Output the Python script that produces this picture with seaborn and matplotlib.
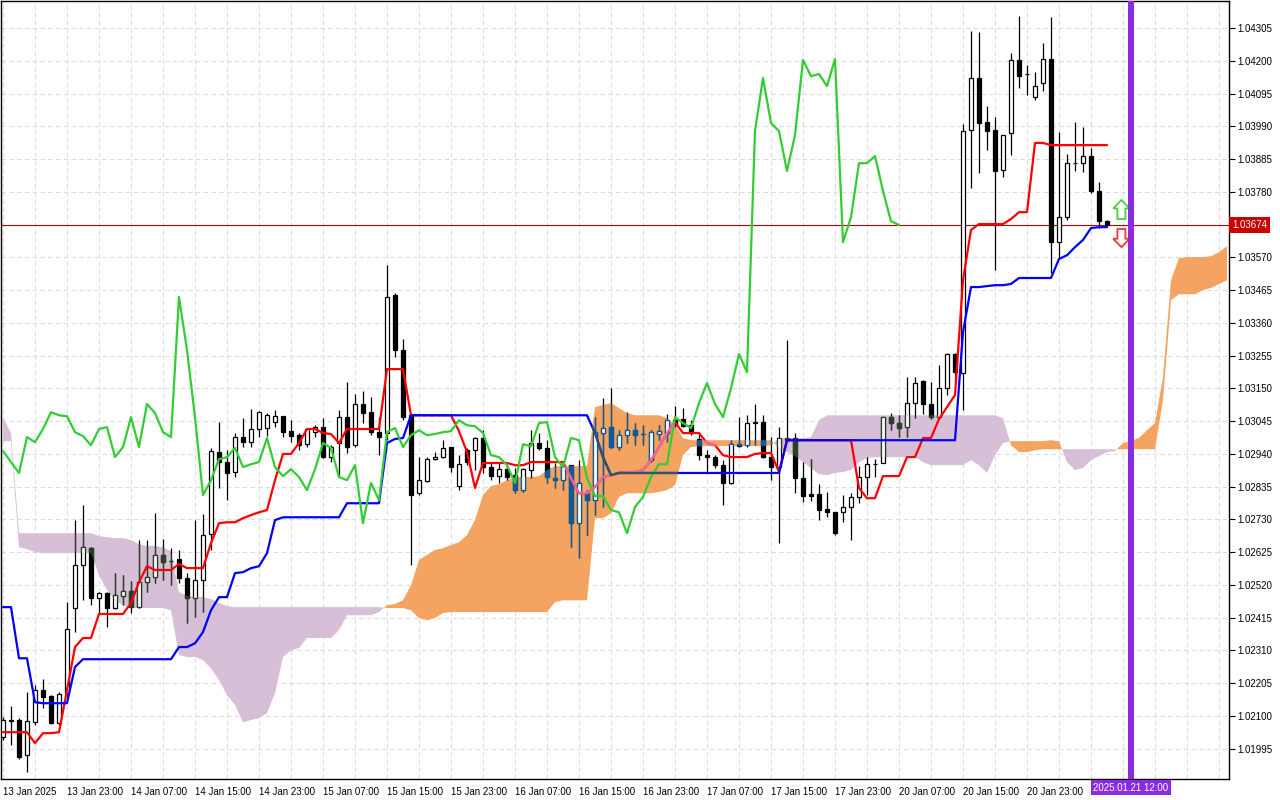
import numpy as np
import pandas as pd
import seaborn as sns
import matplotlib
matplotlib.use("Agg")
import matplotlib.pyplot as plt
import matplotlib.transforms as mtransforms
from matplotlib.path import Path
from matplotlib.patches import FancyArrow

# EURUSD H1 candles, prices in points (1 point = 0.00001)
open_pts = [102032, 102087, 102087, 101974, 102080, 102183, 102164, 102077, 102173, 102446,
            102584, 102638, 102478, 102494, 102446, 102484, 102500, 102449, 102529, 102545,
            102616, 102596, 102603, 102542, 102478, 102535, 102683, 102946, 102914, 102882,
            102994, 102978, 103020, 103023, 103042, 103061, 103013, 103000, 102971, 103010,
            103026, 102930, 102975, 103058, 102968, 103100, 103074, 103010, 103007, 103449,
            103273, 103064, 102814, 102853, 102923, 102930, 102962, 102837, 102952, 102952,
            102991, 102898, 102869, 102891, 102872, 102824, 102888, 102975, 102959, 102862,
            102856, 102904, 102718, 102814, 102792, 103007, 103026, 102962, 103000, 103016,
            103004, 102920, 103004, 103007, 103048, 103052, 103032, 102988, 102936, 102930,
            102904, 102847, 102971, 102968, 103039, 103042, 102930, 102898, 102991, 102991,
            102862, 102811, 102811, 102763, 102753, 102753, 102770, 102802, 102866, 102907,
            102911, 103058, 103039, 103026, 103103, 103173, 103100, 103058, 103151, 103260,
            103199, 103978, 104145, 104004, 103978, 103850, 103969, 104203, 104158, 104084,
            104129, 104206, 103619, 103699, 103872, 103872, 103895, 103783, 103686]
high_pts = [102096, 102132, 102093, 102176, 102199, 102218, 102167, 102176, 102465, 102728,
            102776, 102641, 102497, 102497, 102558, 102551, 102532, 102664, 102664, 102750,
            102667, 102638, 102632, 102558, 102728, 102747, 102959, 103042, 102952, 103007,
            103055, 103084, 103077, 103071, 103080, 103061, 103048, 103007, 103023, 103032,
            103055, 102968, 103080, 103170, 103132, 103141, 103122, 103058, 103545, 103456,
            103308, 103071, 102930, 102930, 102946, 102984, 102962, 102936, 102959, 102994,
            103016, 102911, 102911, 102904, 102895, 102895, 103016, 103007, 102984, 102911,
            102911, 102904, 102920, 102824, 103058, 103119, 103151, 103016, 103074, 103039,
            103032, 103016, 103032, 103068, 103093, 103087, 103048, 103007, 102952, 102936,
            102920, 102984, 103058, 103064, 103100, 103064, 102994, 103026, 103305, 103007,
            102914, 102923, 102843, 102818, 102753, 102808, 102814, 102901, 102930, 102923,
            103058, 103071, 103064, 103186, 103186, 103177, 103170, 103225, 103263, 103263,
            103997, 104296, 104292, 104055, 104020, 103962, 104225, 104344, 104187, 104164,
            104257, 104340, 103972, 103901, 104004, 103988, 103920, 103811, 103690]
low_pts = [102023, 102006, 101962, 101920, 102071, 102125, 102074, 102071, 102160, 102369,
           102471, 102455, 102430, 102385, 102442, 102455, 102430, 102446, 102497, 102526,
           102535, 102519, 102526, 102398, 102417, 102433, 102632, 102831, 102792, 102866,
           102962, 102962, 102994, 102997, 103026, 102994, 102978, 102952, 102962, 102994,
           102927, 102914, 102866, 102943, 102962, 103039, 103000, 102936, 102984, 103251,
           103048, 102584, 102808, 102850, 102920, 102927, 102882, 102824, 102904, 102888,
           102879, 102856, 102847, 102856, 102814, 102818, 102862, 102952, 102847, 102831,
           102824, 102641, 102606, 102680, 102744, 102770, 102959, 102952, 102975, 102968,
           102968, 102914, 102984, 102978, 103026, 103026, 103000, 102920, 102882, 102895,
           102776, 102843, 102962, 102962, 102968, 102927, 102856, 102654, 102978, 102814,
           102786, 102789, 102728, 102737, 102680, 102721, 102664, 102782, 102808, 102866,
           102911, 103016, 102994, 102994, 103055, 103068, 103052, 103052, 103129, 103177,
           103080, 103792, 103840, 103914, 103529, 103828, 103898, 104113, 104090, 104074,
           104103, 103520, 103568, 103690, 103847, 103844, 103776, 103664, 103670]
close_pts = [102087, 102083, 101968, 102083, 102183, 102160, 102077, 102170, 102378, 102584,
             102641, 102478, 102494, 102446, 102487, 102500, 102449, 102529, 102545, 102616,
             102593, 102596, 102542, 102478, 102535, 102680, 102949, 102914, 102879, 102994,
             102978, 103020, 103074, 103064, 103061, 103010, 102997, 102968, 103020, 103026,
             102930, 102962, 103058, 102962, 103100, 103071, 103010, 102994, 103443, 103273,
             103058, 102808, 102856, 102923, 102930, 102959, 102898, 102907, 102914, 102991,
             102898, 102869, 102891, 102866, 102824, 102891, 102975, 102959, 102866, 102856,
             102904, 102718, 102847, 102792, 103010, 103023, 102962, 103000, 103016, 103000,
             103004, 103010, 103013, 103048, 103032, 103029, 103007, 102936, 102930, 102904,
             102847, 102971, 102965, 103039, 103042, 102930, 102898, 102991, 102984, 102862,
             102805, 102805, 102760, 102753, 102686, 102770, 102802, 102866, 102907, 102907,
             103058, 103039, 103023, 103103, 103167, 103100, 103058, 103151, 103260, 103202,
             103975, 104145, 104001, 103975, 103847, 103962, 104203, 104151, 104158, 104119,
             104206, 103619, 103699, 103872, 103872, 103895, 103783, 103686, 103674]

# Ichimoku lines as drawn on the chart (points)
tenkan_pts = [102048, 102048, 102048, 102048, 102013, 102045, 102045, 102048, 102183, 102321,
              102350, 102350, 102427, 102427, 102427, 102427, 102462, 102529, 102580, 102568,
              102568, 102568, 102587, 102574, 102574, 102574, 102654, 102718, 102721, 102721,
              102734, 102744, 102753, 102760, 102856, 102940, 102940, 102975, 103020, 103020,
              103007, 103004, 102975, 103020, 103020, 103020, 103020, 103020, 103212, 103212,
              103212, 103064, 103064, 103064, 103064, 103064, 103064, 103013, 102946, 102831,
              102911, 102911, 102911, 102911, 102904, 102904, 102914, 102914, 102914, 102914,
              102914, 102862, 102814, 102814, 102834, 102866, 102872, 102879, 102882, 102882,
              102888, 102920, 102962, 103007, 103042, 103007, 103007, 103007, 102975, 102968,
              102936, 102930, 102930, 102930, 102940, 102943, 102943, 102882, 102984, 102984,
              102984, 102984, 102984, 102984, 102984, 102984, 102984, 102831, 102798, 102798,
              102869, 102869, 102869, 102930, 102930, 102991, 102991, 103052, 103090, 103129,
              103497, 103658, 103677, 103677, 103677, 103677, 103693, 103715, 103715, 103937,
              103937, 103930, 103930, 103930, 103930, 103930, 103930, 103930, 103930]
kijun_pts = [102449, 102449, 102285, 102285, 102144, 102141, 102141, 102141, 102141, 102257,
             102282, 102282, 102282, 102282, 102282, 102282, 102282, 102282, 102282, 102282,
             102282, 102282, 102321, 102321, 102333, 102369, 102439, 102481, 102481, 102558,
             102561, 102574, 102580, 102622, 102728, 102737, 102737, 102737, 102737, 102737,
             102737, 102737, 102737, 102782, 102782, 102782, 102782, 102782, 102975, 102988,
             102991, 103064, 103064, 103064, 103064, 103064, 103064, 103064, 103064, 103064,
             103064, 103064, 103064, 103064, 103064, 103064, 103064, 103064, 103064, 103064,
             103064, 103064, 103064, 103064, 103007, 102930, 102872, 102879, 102879, 102879,
             102879, 102879, 102879, 102879, 102879, 102879, 102879, 102879, 102879, 102879,
             102879, 102879, 102879, 102879, 102879, 102879, 102879, 102879, 102984, 102984,
             102984, 102984, 102984, 102984, 102984, 102984, 102984, 102984, 102984, 102984,
             102984, 102984, 102984, 102984, 102984, 102984, 102984, 102984, 102984, 102984,
             103331, 103475, 103475, 103478, 103481, 103481, 103485, 103504, 103504, 103504,
             103504, 103504, 103565, 103577, 103603, 103626, 103664, 103667, 103667]
# Senkou spans, already shifted 26 bars forward
span_a_pts = [102981, 102981, 102641, 102635, 102625, 102622, 102622, 102622, 102622, 102622,
              102622, 102622, 102551, 102504, 102471, 102455, 102446, 102446, 102446, 102446,
              102446, 102439, 102295, 102289, 102289, 102279, 102253, 102215, 102167, 102135,
              102080, 102087, 102093, 102109, 102173, 102289, 102311, 102318, 102350, 102350,
              102350, 102350, 102375, 102423, 102423, 102423, 102423, 102433, 102455, 102459,
              102471, 102519, 102600, 102616, 102632, 102638, 102648, 102657, 102680, 102728,
              102808, 102837, 102843, 102856, 102866, 102866, 102866, 102869, 102888, 102901,
              102901, 102901, 102901, 102901, 103090, 103097, 103103, 103087, 103071, 103064,
              103064, 103064, 103064, 103055, 103032, 102991, 102984, 102984, 102984, 102984,
              102984, 102984, 102984, 102984, 102984, 102984, 102984, 102959, 102946, 102933,
              102914, 102895, 102875, 102872, 102879, 102882, 102888, 102914, 102927, 102930,
              102930, 102930, 102930, 102930, 102930, 102914, 102904, 102904, 102904, 102904,
              102904, 102920, 102904, 102879, 102936, 102975, 102981, 102981, 102981, 102981,
              102981, 102984, 102981, 102914, 102888, 102895, 102920, 102933, 102946, 102949,
              102975, 102981, 102991, 103016, 103039, 103186, 103497, 103568, 103571, 103571,
              103571, 103574, 103587, 103606]
span_b_pts = [103058, 103007, 102686, 102686, 102686, 102686, 102686, 102686, 102686, 102686,
              102686, 102686, 102677, 102673, 102670, 102670, 102664, 102651, 102645, 102645,
              102641, 102628, 102497, 102484, 102484, 102481, 102475, 102462, 102452, 102449,
              102449, 102449, 102449, 102449, 102449, 102449, 102449, 102449, 102449, 102449,
              102449, 102449, 102449, 102449, 102449, 102449, 102449, 102449, 102446, 102446,
              102446, 102439, 102414, 102407, 102414, 102430, 102433, 102433, 102433, 102433,
              102433, 102433, 102433, 102433, 102433, 102433, 102433, 102433, 102433, 102465,
              102471, 102471, 102471, 102471, 102734, 102734, 102750, 102802, 102814, 102814,
              102814, 102814, 102818, 102824, 102840, 102936, 102962, 102965, 102965, 102965,
              102965, 102965, 102965, 102965, 102965, 102965, 102968, 102991, 102991, 102991,
              102991, 102994, 103048, 103064, 103064, 103064, 103064, 103064, 103064, 103064,
              103064, 103064, 103064, 103064, 103064, 103064, 103064, 103064, 103064, 103064,
              103064, 103064, 103064, 103064, 103064, 103055, 102968, 102946, 102946, 102952,
              102955, 102955, 102955, 102955, 102955, 102955, 102955, 102955, 102955, 102955,
              102955, 102955, 102955, 102955, 102955, 103113, 103433, 103452, 103452, 103452,
              103465, 103472, 103484, 103497]

chikou_shift = 26
current_price = 1.03674
event_bar = 141
event_label = "2025.01.21 12:00"
# buy / sell signal arrows next to the last bar
signal_bar = [139.8]
signal_up_from = [1.03693]
signal_up_to = [1.03754]
signal_down_from = [1.03661]
signal_down_to = [1.03603]

time_labels = ["13 Jan 2025", "13 Jan 23:00", "14 Jan 07:00", "14 Jan 15:00", "14 Jan 23:00",
               "15 Jan 07:00", "15 Jan 15:00", "15 Jan 23:00", "16 Jan 07:00", "16 Jan 15:00",
               "16 Jan 23:00", "17 Jan 07:00", "17 Jan 15:00", "17 Jan 23:00", "20 Jan 07:00",
               "20 Jan 15:00", "20 Jan 23:00", ""]
price_labels = ["1.01995", "1.02100", "1.02205", "1.02310", "1.02415", "1.02520", "1.02625",
                "1.02730", "1.02835", "1.02940", "1.03045", "1.03150", "1.03255", "1.03360",
                "1.03465", "1.03570", "1.03675", "1.03780", "1.03885", "1.03990", "1.04095",
                "1.04200", "1.04305"]

POINT = 1e-5
o = np.array(open_pts) * POINT
h = np.array(high_pts) * POINT
l = np.array(low_pts) * POINT
c = np.array(close_pts) * POINT
bars = np.arange(len(c))
span_a = np.array(span_a_pts) * POINT
span_b = np.array(span_b_pts) * POINT
cloud_x = np.arange(len(span_a))

lines = pd.concat([
    pd.DataFrame({"bar": bars, "price": np.array(tenkan_pts) * POINT, "line": "Tenkan-sen"}),
    pd.DataFrame({"bar": bars, "price": np.array(kijun_pts) * POINT, "line": "Kijun-sen"}),
    pd.DataFrame({"bar": bars[:-chikou_shift], "price": c[chikou_shift:], "line": "Chikou Span"}),
])

sns.set_theme(style="white")
plt.rcParams["font.family"] = ["Liberation Sans", "DejaVu Sans"]

fig = plt.figure(figsize=(12.8, 8.0), dpi=100)
ax = fig.add_axes([1 / 1280, 21 / 800, 1228 / 1280, 778 / 800])
ax.set_facecolor("white")

# kumo
cloud_up = ax.fill_between(cloud_x, span_a, span_b, where=span_a >= span_b,
                           interpolate=True, color="#F4A460", lw=0, zorder=1)
cloud_dn = ax.fill_between(cloud_x, span_a, span_b, where=span_a < span_b,
                           interpolate=True, color="#D8BFD8", lw=0, zorder=1)
up_path = Path.make_compound_path(*cloud_up.get_paths())
dn_path = Path.make_compound_path(*cloud_dn.get_paths())


def draw_candles(color, z, clip=None):
    faces = np.where(c >= o, "white", color)
    wick = ax.vlines(bars, l, h, colors=color, linewidth=0.9, zorder=z)
    body = ax.bar(bars, np.abs(c - o), bottom=np.minimum(o, c), width=0.62,
                  color=faces, edgecolor=color, linewidth=0.9, zorder=z + 0.01)
    if clip is not None:
        wick.set_clip_path(clip, ax.transData)
        for p in body.patches:
            p.set_clip_path(clip, ax.transData)


draw_candles("black", 3)
# black parts look inverted where the cloud lies under them (like the terminal)
draw_candles("#0B5B9F", 3.1, up_path)
draw_candles("#274027", 3.1, dn_path)

sns.lineplot(data=lines, x="bar", y="price", hue="line",
             hue_order=["Tenkan-sen", "Kijun-sen", "Chikou Span"],
             palette={"Tenkan-sen": "#FF0000", "Kijun-sen": "#0000FF", "Chikou Span": "#32CD32"},
             estimator=None, linewidth=1.6, legend=False, ax=ax, zorder=4)
tk = lines[lines["line"] == "Tenkan-sen"]
kj = lines[lines["line"] == "Kijun-sen"]
for df, col in [(tk, "#EE6AA7"), (kj, "#285A66")]:
    ln, = ax.plot(df["bar"], df["price"], color=col, lw=1.6, zorder=4.1)
    ln.set_clip_path(up_path, ax.transData)

ax.axhline(current_price, color="#9a1010", lw=0.8, zorder=2.5)
ax.axvline(event_bar, color="#8A2BE2", lw=4.3, zorder=6)

# hollow signal arrows (vertical only, so mixed data units are fine)
for xb, u0, u1, d0, d1 in zip(signal_bar, signal_up_from, signal_up_to,
                              signal_down_from, signal_down_to):
    for y0, y1, col in [(u0, u1, "#4ccf3c"), (d0, d1, "#f03a3a")]:
        ax.add_patch(FancyArrow(xb, y0, 0, y1 - y0, width=1.0, head_width=2.05,
                                head_length=0.00027, length_includes_head=True,
                                fc="white", ec=col, lw=1.3, zorder=5))

ax.set_xlim(-0.25, 153.25)
ax.set_ylim(1.01898, 1.04392)

ax.yaxis.tick_right()
ax.set_yticks([float(s) for s in price_labels])
ax.set_yticklabels([s if abs(float(s) - current_price) > 0.0002 else "" for s in price_labels])
ax.set_xticks(np.arange(0, 8 * len(time_labels), 8))
ax.set_xticklabels(time_labels, ha="left")
ax.set_xticks(np.arange(0, 153, 4), minor=True)
shift = mtransforms.ScaledTranslation(0.01, 0, fig.dpi_scale_trans)
for lab in ax.get_xticklabels():
    lab.set_transform(lab.get_transform() + shift)

ax.tick_params(axis="both", which="major", direction="out", length=4, width=0.8,
               color="black", labelsize=7, labelcolor="black", pad=2)
ax.tick_params(axis="x", which="minor", length=0)
ax.grid(True, axis="x", which="both", color="#dcdcdc", linestyle=(0, (4, 3)), lw=0.8, zorder=0)
ax.grid(True, axis="y", which="major", color="#dcdcdc", linestyle=(0, (4, 3)), lw=0.8, zorder=0)
ax.set_axisbelow(True)
ax.set_xlabel("")
ax.set_ylabel("")
for s in ax.spines.values():
    s.set_color("black")
    s.set_linewidth(1)

yblend = mtransforms.blended_transform_factory(ax.transAxes, ax.transData)
ax.text(1.0025, current_price, f"{current_price:.5f}", transform=yblend, ha="left", va="center",
        color="white", fontsize=7, zorder=10, clip_on=False,
        bbox=dict(boxstyle="square,pad=0.3", fc="#C80000", ec="none"))
xblend = mtransforms.blended_transform_factory(ax.transData, ax.transAxes)
ax.text(event_bar, -0.0045, event_label, transform=xblend, ha="center", va="top",
        color="white", fontsize=7, zorder=10, clip_on=False,
        bbox=dict(boxstyle="square,pad=0.3", fc="#8A2BE2", ec="none"))

fig.savefig("out.png", dpi=100)
